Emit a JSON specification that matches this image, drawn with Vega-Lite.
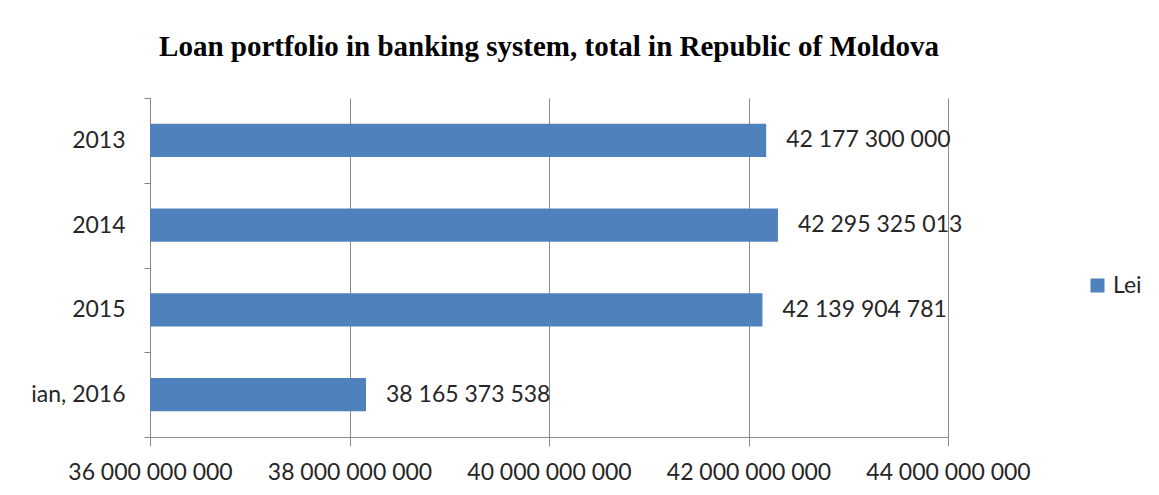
{
  "$schema": "https://vega.github.io/schema/vega-lite/v6.json",
  "width": 798,
  "height": 339,
  "autosize": {"type": "none"},
  "padding": {"left": 150, "top": 98, "right": 211, "bottom": 58},
  "background": "white",
  "title": {
    "text": "Loan portfolio in banking system, total in Republic of Moldova",
    "font": "Liberation Serif",
    "fontSize": 29,
    "fontWeight": "bold",
    "color": "#000000",
    "anchor": "middle",
    "frame": "group",
    "baseline": "alphabetic",
    "offset": 2
  },
  "config": {
    "locale": {"number": {"decimal": ",", "thousands": " ", "grouping": [3], "currency": ["", ""]}},
    "view": {"stroke": null},
    "font": "Lato"
  },
  "data": {
    "values": [
      {"period": "2013", "value": 42177300000, "series": "Lei"},
      {"period": "2014", "value": 42295325013, "series": "Lei"},
      {"period": "2015", "value": 42139904781, "series": "Lei"},
      {"period": "ian, 2016", "value": 38165373538, "series": "Lei"}
    ]
  },
  "encoding": {
    "y": {
      "field": "period",
      "type": "nominal",
      "sort": null,
      "scale": {"paddingInner": 0, "paddingOuter": 0},
      "axis": {
        "title": null,
        "tickBand": "extent",
        "tickSize": 6,
        "tickColor": "#868686",
        "domainColor": "#868686",
        "labelPadding": 19,
        "labelFont": "Lato",
        "labelFontSize": 23,
        "labelColor": "#262626",
        "labelFontWeight": "normal"
      }
    }
  },
  "layer": [
    {
      "mark": {"type": "bar", "height": {"band": 0.39}},
      "encoding": {
        "x": {
          "field": "value",
          "type": "quantitative",
          "scale": {"domain": [36000000000, 44000000000], "zero": false, "nice": false},
          "axis": {
            "title": null,
            "values": [36000000000, 38000000000, 40000000000, 42000000000, 44000000000],
            "format": ",d",
            "grid": true,
            "gridColor": "#8c8c8c",
            "gridOpacity": 1,
            "tickColor": "#8c8c8c",
            "domainColor": "#8c8c8c",
            "tickSize": 9,
            "labelPadding": 15,
            "labelFont": "Lato",
            "labelFontSize": 23,
            "labelColor": "#262626",
            "labelFlush": false
          }
        },
        "x2": {"datum": 36000000000},
        "color": {
          "field": "series",
          "type": "nominal",
          "scale": {"range": ["#4F81BD"]},
          "legend": {
            "title": null,
            "orient": "none",
            "legendX": 936,
            "legendY": 176,
            "symbolType": "square",
            "symbolSize": 196,
            "symbolStrokeWidth": 0,
            "labelFont": "Lato",
            "labelFontSize": 23,
            "labelColor": "#262626",
            "labelOffset": 4,
            "padding": 0
          }
        }
      }
    },
    {
      "mark": {"type": "text", "align": "left", "baseline": "middle", "dx": 20, "font": "Lato", "fontSize": 23, "color": "#262626"},
      "encoding": {
        "x": {"field": "value", "type": "quantitative"},
        "text": {"field": "value", "type": "quantitative", "format": ",d"}
      }
    }
  ]
}
